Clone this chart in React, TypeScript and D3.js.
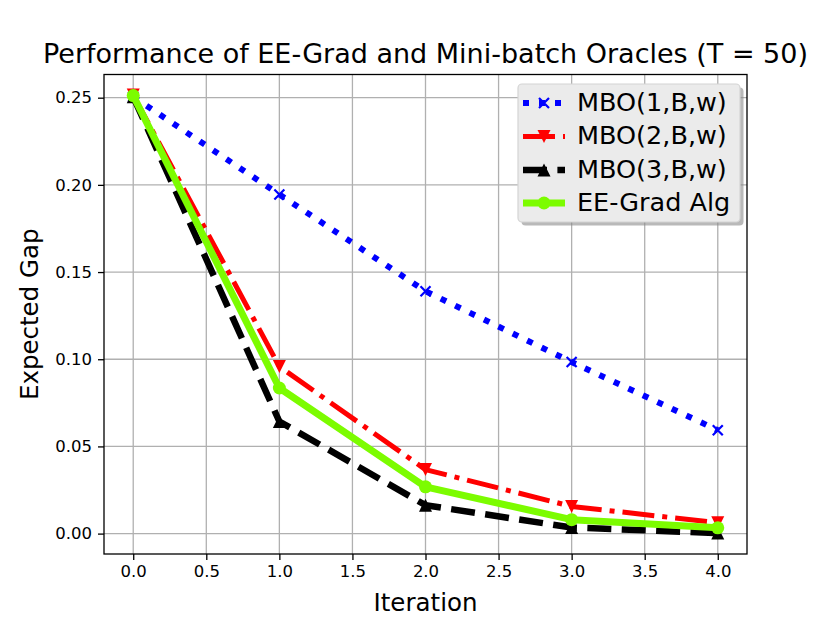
import { useEffect, useRef } from "react"
import * as d3 from "d3"

const iterations = [0, 1, 2, 3, 4]
const mbo1 = [0.2505, 0.1945, 0.139, 0.0984, 0.0593]
const mbo2 = [0.2515, 0.0958, 0.0367, 0.0156, 0.0062]
const mbo3 = [0.2505, 0.0643, 0.0163, 0.0035, 0.0003]
const eeGrad = [0.2512, 0.0835, 0.0268, 0.008, 0.0033]

const xTicks = [0, 0.5, 1, 1.5, 2, 2.5, 3, 3.5, 4]
const yTicks = [0, 0.05, 0.1, 0.15, 0.2, 0.25]

const seriesNames = ["MBO(1,B,w)", "MBO(2,B,w)", "MBO(3,B,w)", "EE-Grad Alg"]

const FONT = "'DejaVu Sans', sans-serif"

export default function App() {
  const svgRef = useRef<SVGSVGElement>(null)

  useEffect(() => {
    if (!svgRef.current) return
    const svg = d3.select(svgRef.current)
    svg.selectAll("*").remove()

    const left = 104, right = 747, top = 74.5, bottom = 554
    const x = d3.scaleLinear().domain([-0.2, 4.2]).range([left, right])
    const y = d3.scaleLinear().domain([-0.0117, 0.2633]).range([bottom, top])

    svg.append("rect").attr("width", 830).attr("height", 623).attr("fill", "#fff")

    // grid
    const grid = svg.append("g").attr("stroke", "#b0b0b0").attr("stroke-width", 1.3)
    xTicks.forEach((t) => {
      grid.append("line").attr("x1", x(t)).attr("x2", x(t)).attr("y1", top).attr("y2", bottom)
    })
    yTicks.forEach((t) => {
      grid.append("line").attr("y1", y(t)).attr("y2", y(t)).attr("x1", left).attr("x2", right)
    })

    // axes
    const xAxis = d3
      .axisBottom(x)
      .tickValues(xTicks)
      .tickFormat(d3.format(".1f"))
      .tickSize(6)
      .tickPadding(5)
    const yAxis = d3
      .axisLeft(y)
      .tickValues(yTicks)
      .tickFormat(d3.format(".2f"))
      .tickSize(6)
      .tickPadding(6)

    const gx = svg.append("g").attr("transform", `translate(0,${bottom})`).call(xAxis)
    const gy = svg.append("g").attr("transform", `translate(${left},0)`).call(yAxis)
    ;[gx, gy].forEach((g) => {
      g.select(".domain").remove()
      g.selectAll("line").attr("stroke", "#000").attr("stroke-width", 1.3)
      g.selectAll("text").attr("font-family", FONT).attr("font-size", 16.5).attr("fill", "#000")
    })

    const clip = svg.append("clipPath").attr("id", "plotclip")
    clip.append("rect").attr("x", left).attr("y", top).attr("width", right - left).attr("height", bottom - top)

    const plot = svg.append("g").attr("clip-path", "url(#plotclip)")

    const line = d3
      .line<number>()
      .x((_, i) => x(iterations[i]))
      .y((d) => y(d))

    const styles = [
      { data: mbo1, color: "#0000ff", width: 6, dash: "6,10", marker: "x" },
      { data: mbo2, color: "#ff0000", width: 5, dash: "32,8,5,8", marker: "v" },
      { data: mbo3, color: "#000000", width: 6.5, dash: "24,10.4", marker: "^" },
      { data: eeGrad, color: "#7cfc00", width: 7, dash: null, marker: "o" },
    ]

    const drawMarker = (g: any, type: string, cx: number, cy: number, color: string) => {
      if (type === "x") {
        const s = 5
        g.append("path")
          .attr("d", `M${cx - s},${cy - s}L${cx + s},${cy + s}M${cx - s},${cy + s}L${cx + s},${cy - s}`)
          .attr("stroke", color)
          .attr("stroke-width", 2.2)
          .attr("fill", "none")
      } else if (type === "v") {
        const s = 6.5
        g.append("path")
          .attr("d", `M${cx - s},${cy - s}L${cx + s},${cy - s}L${cx},${cy + s}Z`)
          .attr("fill", color)
      } else if (type === "^") {
        const s = 6.5
        g.append("path")
          .attr("d", `M${cx - s},${cy + s}L${cx + s},${cy + s}L${cx},${cy - s}Z`)
          .attr("fill", color)
      } else {
        g.append("circle").attr("cx", cx).attr("cy", cy).attr("r", 6.5).attr("fill", color)
      }
    }

    styles.forEach((s) => {
      const p = plot
        .append("path")
        .datum(s.data)
        .attr("d", line)
        .attr("fill", "none")
        .attr("stroke", s.color)
        .attr("stroke-width", s.width)
        .attr("stroke-linejoin", "round")
      if (s.dash) p.attr("stroke-dasharray", s.dash)
      else p.attr("stroke-linecap", "round")
      s.data.forEach((d, i) => drawMarker(plot, s.marker, x(iterations[i]), y(d), s.color))
    })

    // spines
    svg
      .append("rect")
      .attr("x", left)
      .attr("y", top)
      .attr("width", right - left)
      .attr("height", bottom - top)
      .attr("fill", "none")
      .attr("stroke", "#000")
      .attr("stroke-width", 1.3)

    // legend
    const lg = svg.append("g")
    const lx = 518, ly = 84, lw = 222, lh = 138
    lg.append("rect")
      .attr("x", lx + 3.5)
      .attr("y", ly + 3.5)
      .attr("width", lw)
      .attr("height", lh)
      .attr("rx", 4)
      .attr("fill", "#8a8a8a")
      .attr("opacity", 0.6)
    lg.append("rect")
      .attr("x", lx)
      .attr("y", ly)
      .attr("width", lw)
      .attr("height", lh)
      .attr("rx", 4)
      .attr("fill", "#ebebeb")
      .attr("stroke", "#d4d4d4")
      .attr("stroke-width", 1.2)

    const rowY = [103, 136.5, 170, 203]
    styles.forEach((s, i) => {
      const cy = rowY[i]
      const h = lg
        .append("line")
        .attr("x1", 523)
        .attr("x2", 565)
        .attr("y1", cy)
        .attr("y2", cy)
        .attr("stroke", s.color)
        .attr("stroke-width", s.width)
      if (s.dash) h.attr("stroke-dasharray", s.dash)
      drawMarker(lg, s.marker, 544, cy, s.color)
      lg.append("text")
        .attr("x", 577)
        .attr("y", cy + 7.5)
        .attr("font-family", FONT)
        .attr("font-size", 25.5)
        .attr("fill", "#000")
        .text(seriesNames[i])
    })

    // labels
    svg.append("text")
      .attr("x", (left + right) / 2)
      .attr("y", 63)
      .attr("text-anchor", "middle")
      .attr("font-family", FONT)
      .attr("font-size", 27)
      .text("Performance of EE-Grad and Mini-batch Oracles (T = 50)")
    svg.append("text")
      .attr("x", (left + right) / 2)
      .attr("y", 611)
      .attr("text-anchor", "middle")
      .attr("font-family", FONT)
      .attr("font-size", 24.5)
      .text("Iteration")
    svg.append("text")
      .attr("transform", `translate(38,${(top + bottom) / 2}) rotate(-90)`)
      .attr("text-anchor", "middle")
      .attr("font-family", FONT)
      .attr("font-size", 24.5)
      .text("Expected Gap")
  }, [])

  return (
    <svg
      ref={svgRef}
      width={830}
      height={623}
      style={{ position: "absolute", left: 0, top: 0, display: "block" }}
    />
  )
}
